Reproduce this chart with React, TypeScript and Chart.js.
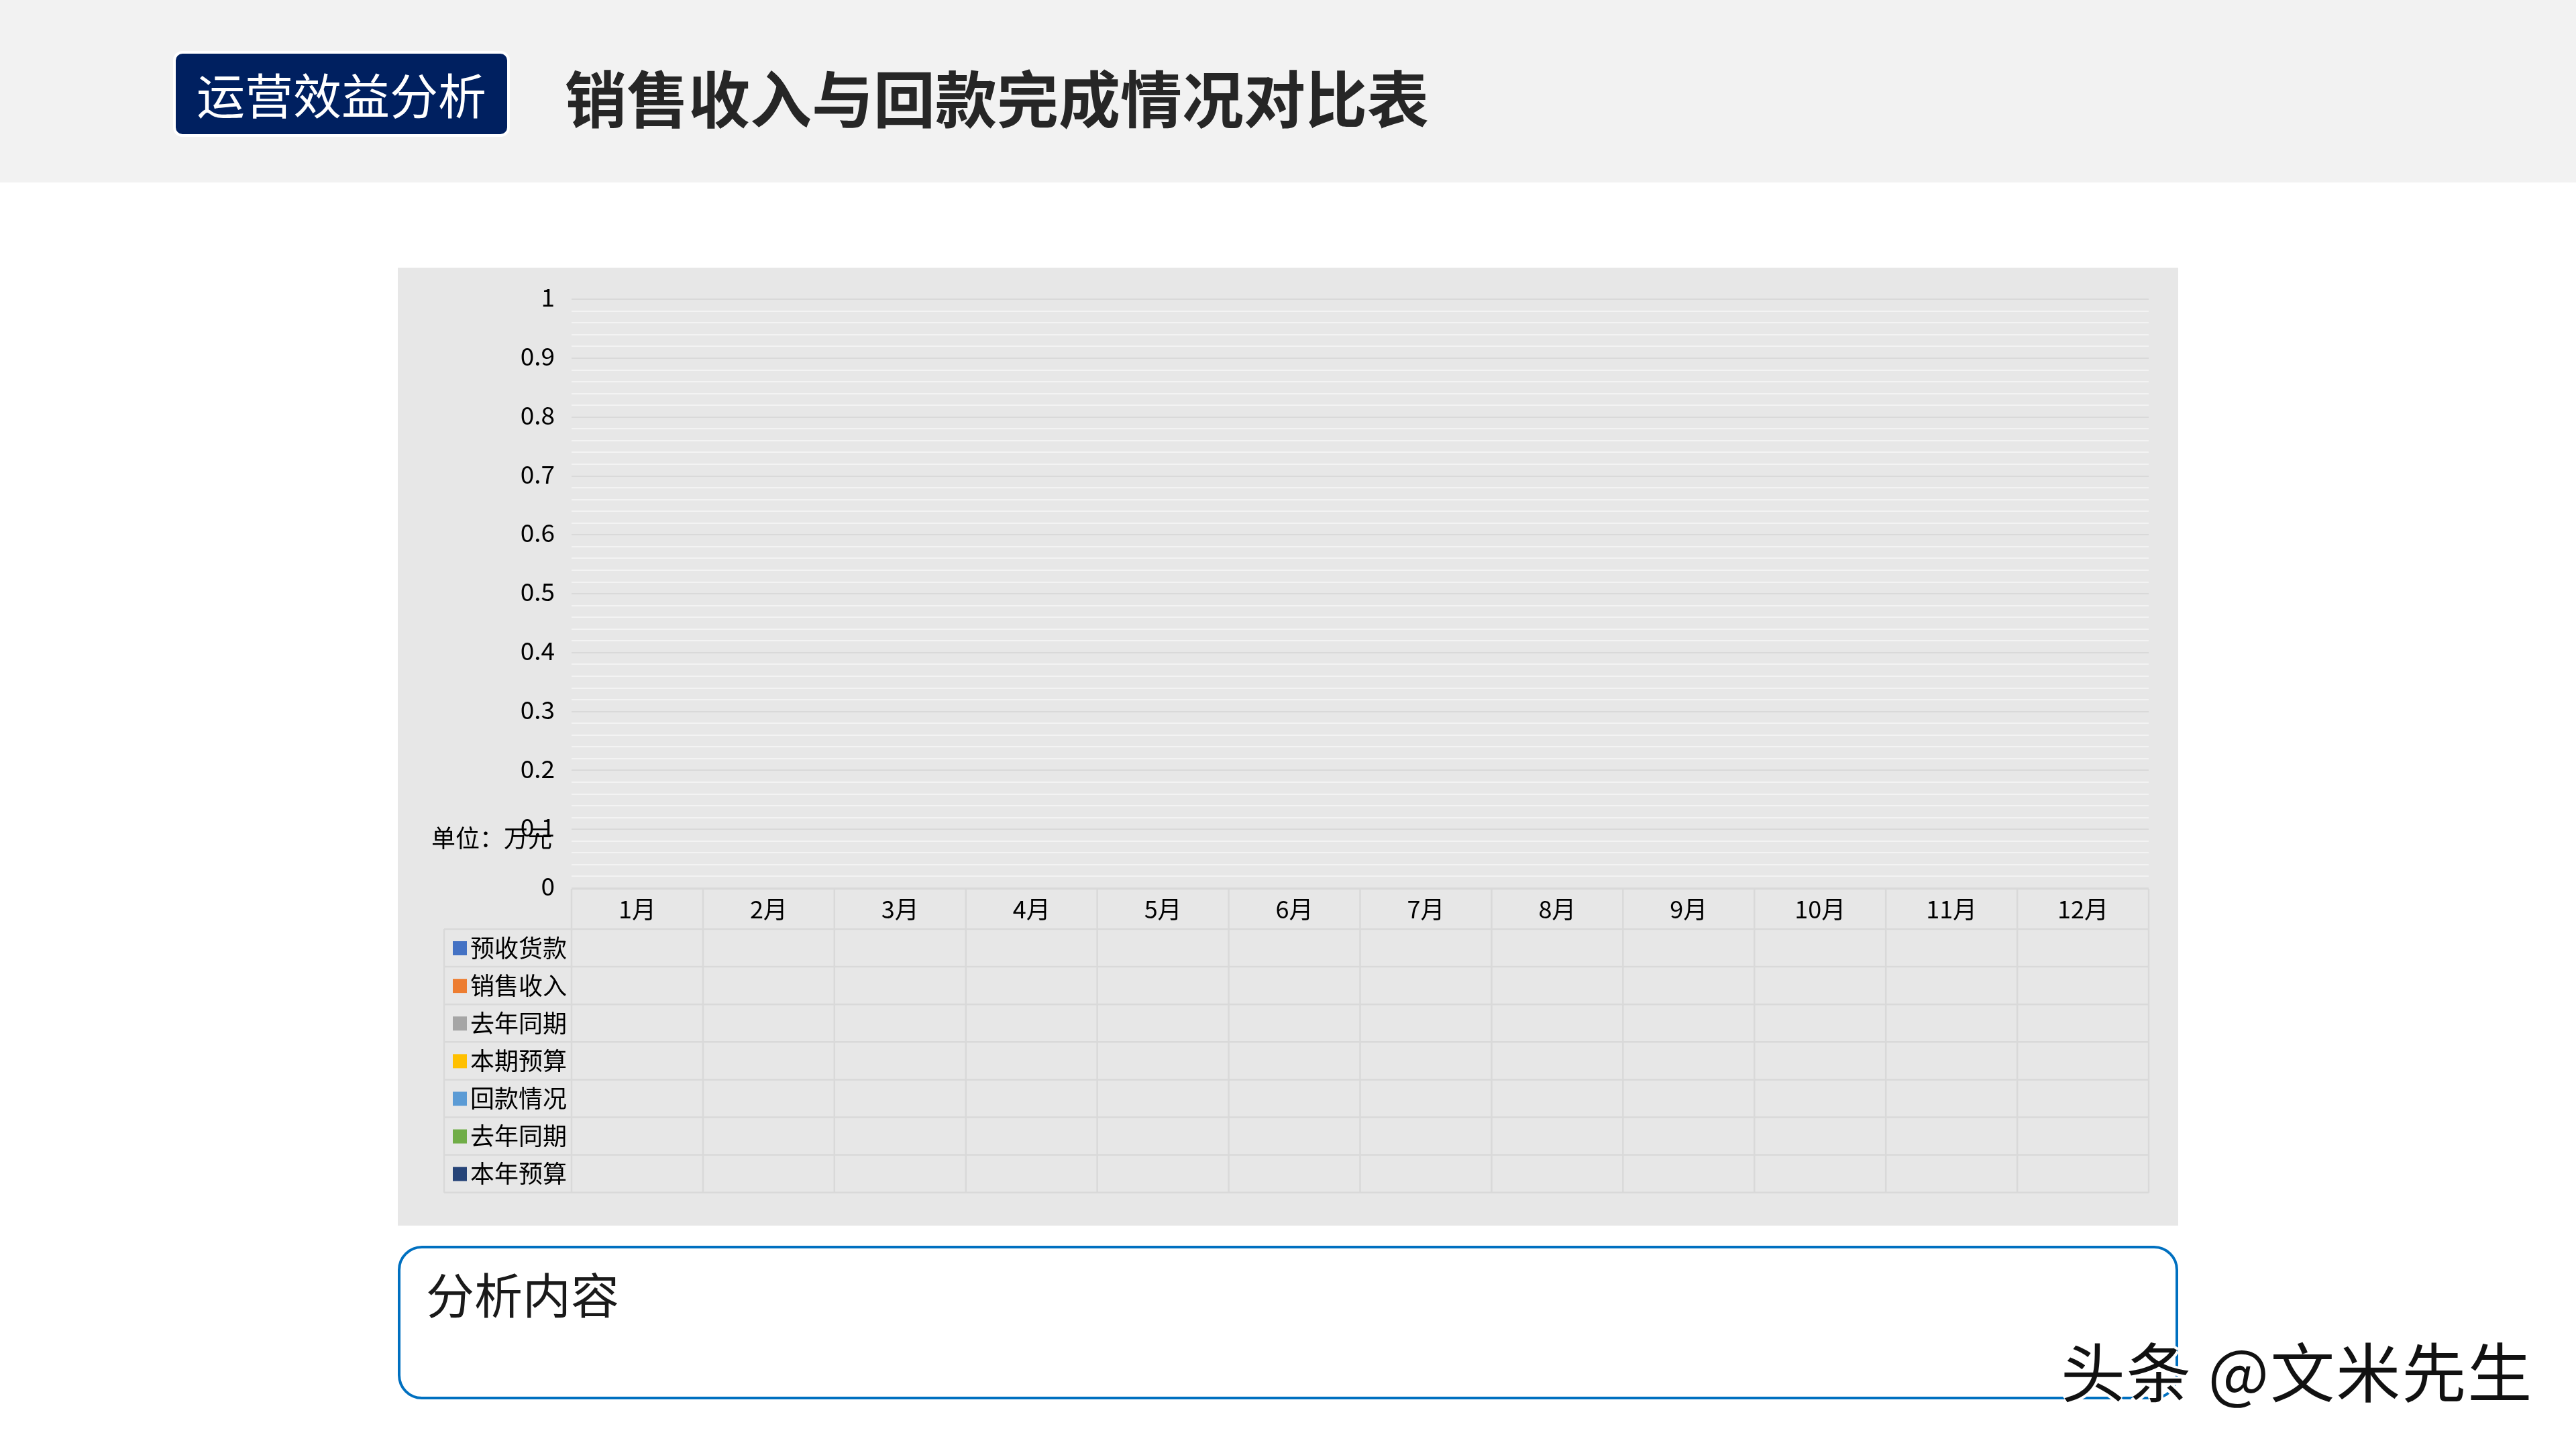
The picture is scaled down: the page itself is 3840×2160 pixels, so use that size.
import React, { useEffect, useRef } from "react";
import { Chart, registerables } from "chart.js";

Chart.register(...registerables);

const months = ["1月", "2月", "3月", "4月", "5月", "6月", "7月", "8月", "9月", "10月", "11月", "12月"];
const seriesNames = ["预收货款", "销售收入", "去年同期", "本期预算", "回款情况", "去年同期", "本年预算"];
const seriesColors = ["#4472C4", "#ED7D31", "#A5A5A5", "#FFC000", "#5B9BD5", "#70AD47", "#264478"];
// The reference chart is empty: every month cell of every series is blank
const advanceReceipts: (number | null)[] = [null, null, null, null, null, null, null, null, null, null, null, null];
const salesRevenue: (number | null)[] = [null, null, null, null, null, null, null, null, null, null, null, null];
const lastYearSales: (number | null)[] = [null, null, null, null, null, null, null, null, null, null, null, null];
const periodBudget: (number | null)[] = [null, null, null, null, null, null, null, null, null, null, null, null];
const collections: (number | null)[] = [null, null, null, null, null, null, null, null, null, null, null, null];
const lastYearCollections: (number | null)[] = [null, null, null, null, null, null, null, null, null, null, null, null];
const yearBudget: (number | null)[] = [null, null, null, null, null, null, null, null, null, null, null, null];
const seriesValues = [advanceReceipts, salesRevenue, lastYearSales, periodBudget, collections, lastYearCollections, yearBudget];
const yMajorTicks = [0, 0.1, 0.2, 0.3, 0.4, 0.5, 0.6, 0.7, 0.8, 0.9, 1];
const yTickLabels = ["0", "0.1", "0.2", "0.3", "0.4", "0.5", "0.6", "0.7", "0.8", "0.9", "1"];
const unitLabel = "单位：万元";

const FONT = '"Noto Sans CJK SC", "Noto Sans", sans-serif';

const majorIndex = (v: number) => yMajorTicks.findIndex((t) => Math.abs(t - v) < 1e-6);

const tablePlugin = {
  id: "dataTable",
  beforeDraw(chart: any) {
    const { ctx, width, height } = chart;
    ctx.save();
    ctx.fillStyle = "#e7e7e7";
    ctx.fillRect(0, 0, width, height);
    ctx.restore();
  },
  afterDraw(chart: any) {
    const { ctx, chartArea } = chart;
    const xs = chart.scales.x;
    const n = months.length;
    const colW = (chartArea.right - chartArea.left) / n;
    const top = chartArea.bottom + 1;
    const headH = 60;
    const headBottom = top + headH;
    const rowH = 56.1;
    const nRows = seriesNames.length;
    const bottom = headBottom + rowH * nRows;
    const legendLeft = 69;
    ctx.save();
    ctx.strokeStyle = "#d9d9d9";
    ctx.lineWidth = 2.5;
    ctx.beginPath();
    ctx.moveTo(chartArea.left, top);
    ctx.lineTo(chartArea.right, top);
    for (let r = 0; r <= nRows; r++) {
      const y = headBottom + r * rowH;
      ctx.moveTo(legendLeft, y);
      ctx.lineTo(chartArea.right, y);
    }
    for (let i = 0; i <= n; i++) {
      const x = chartArea.left + i * colW;
      ctx.moveTo(x, top);
      ctx.lineTo(x, bottom);
    }
    ctx.moveTo(legendLeft, headBottom);
    ctx.lineTo(legendLeft, bottom);
    ctx.stroke();

    ctx.fillStyle = "#000";
    ctx.font = `36px ${FONT}`;
    ctx.textAlign = "center";
    ctx.textBaseline = "middle";
    months.forEach((m, i) => {
      ctx.fillText(m, xs.getPixelForValue(i), top + headH / 2);
    });

    ctx.textAlign = "left";
    seriesNames.forEach((name, r) => {
      const cy = headBottom + r * rowH + rowH / 2;
      ctx.fillStyle = seriesColors[r];
      ctx.fillRect(82, cy - 10, 21, 21);
      ctx.fillStyle = "#000";
      ctx.fillText(name, 108, cy);
      const vals = seriesValues[r];
      ctx.textAlign = "center";
      vals.forEach((v, i) => {
        if (v !== null && v !== undefined) ctx.fillText(String(v), xs.getPixelForValue(i), cy);
      });
      ctx.textAlign = "left";
    });

    ctx.fillText(unitLabel, 50, 850);
    ctx.restore();
  },
};

function ChartPanel() {
  const ref = useRef<HTMLCanvasElement | null>(null);
  useEffect(() => {
    if (!ref.current) return;
    const chart = new Chart(ref.current, {
      type: "bar",
      data: {
        labels: months,
        datasets: seriesNames.map((name, i) => ({
          label: name,
          data: seriesValues[i],
          backgroundColor: seriesColors[i],
        })),
      },
      options: {
        animation: false,
        responsive: false,
        maintainAspectRatio: false,
        layout: { padding: { top: 45, right: 44, bottom: 503, left: 0 } },
        plugins: { legend: { display: false }, tooltip: { enabled: false }, title: { display: false } },
        scales: {
          x: { display: false, offset: true },
          y: {
            min: 0,
            max: 1,
            border: { display: false },
            afterFit: (scale: any) => {
              scale.width = 259;
            },
            grid: {
              drawTicks: false,
              lineWidth: 2,
              color: (c: any) => (majorIndex(c.tick.value) >= 0 ? "#d9d9d9" : "#f3f3f3"),
            },
            ticks: {
              stepSize: 0.02,
              autoSkip: false,
              maxTicksLimit: 60,
              padding: 25,
              labelOffset: -3,
              color: "#000",
              font: { family: FONT, size: 37 },
              callback: (value: any) => {
                const idx = majorIndex(Number(value));
                return idx >= 0 ? yTickLabels[idx] : "";
              },
            },
          },
        },
      },
      plugins: [tablePlugin],
    });
    return () => chart.destroy();
  }, []);
  return (
    <canvas
      ref={ref}
      width={2654}
      height={1428}
      style={{ position: "absolute", left: 593, top: 399, width: 2654, height: 1428 }}
    />
  );
}

export default function App() {
  useEffect(() => {
    document.body.style.margin = "0";
  }, []);
  return (
    <div
      style={{
        position: "relative",
        width: 3840,
        height: 2160,
        background: "#ffffff",
        overflow: "hidden",
        fontFamily: FONT,
      }}
    >
      <div style={{ position: "absolute", left: 0, top: 0, width: 3840, height: 272, background: "#f2f2f2" }} />
      <div
        style={{
          position: "absolute",
          left: 258,
          top: 76,
          width: 502,
          height: 128,
          boxSizing: "border-box",
          background: "#002060",
          border: "4px solid #ffffff",
          borderRadius: 14,
          color: "#ffffff",
          fontSize: 72,
          lineHeight: "118px",
          textAlign: "center",
          whiteSpace: "nowrap",
        }}
      >
        运营效益分析
      </div>
      <div
        style={{
          position: "absolute",
          left: 842,
          top: 147 - 64,
          height: 120,
          lineHeight: "120px",
          fontSize: 92,
          fontWeight: 700,
          color: "#262626",
          whiteSpace: "nowrap",
        }}
      >
        销售收入与回款完成情况对比表
      </div>
      <ChartPanel />
      <div
        style={{
          position: "absolute",
          left: 593,
          top: 1857,
          width: 2654,
          height: 229,
          boxSizing: "border-box",
          border: "4px solid #0070C0",
          borderRadius: 36,
        }}
      />
      <div
        style={{
          position: "absolute",
          left: 635,
          top: 1931 - 54,
          height: 100,
          lineHeight: "100px",
          fontSize: 72,
          color: "#1a1a1a",
          whiteSpace: "nowrap",
        }}
      >
        分析内容
      </div>
      <div
        style={{
          position: "absolute",
          left: 3072,
          top: 2045 - 70,
          height: 132,
          lineHeight: "132px",
          fontSize: 96,
          letterSpacing: 2,
          color: "#111111",
          whiteSpace: "nowrap",
          textShadow: "3px 3px 0 #ffffff, -3px -3px 0 #ffffff, 3px -3px 0 #ffffff, -3px 3px 0 #ffffff",
        }}
      >
        头条 @文米先生
      </div>
    </div>
  );
}
